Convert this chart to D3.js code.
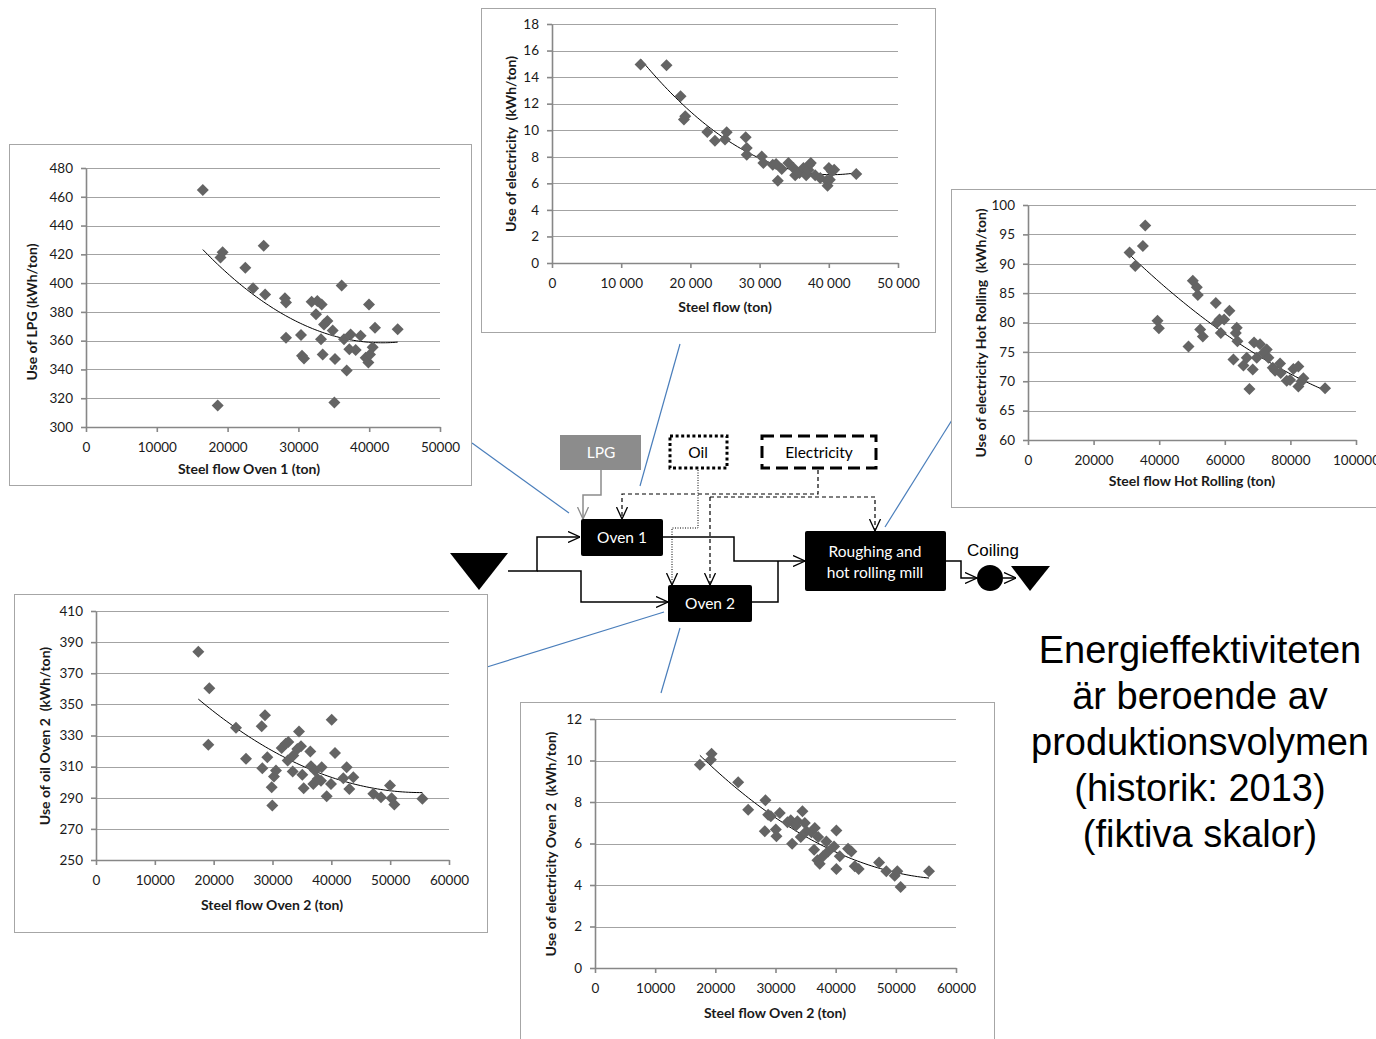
<!DOCTYPE html>
<html lang="sv">
<head>
<meta charset="UTF-8">
<title>Energieffektiviteten</title>
<script src="https://d3js.org/d3.v7.min.js"></script>
<style>
    body { margin: 0; background: #fff; }
    svg { display: block; }
    .chart text { font-family: Lato, 'Open Sans', sans-serif; fill: #1a1a1a; }
    .chart .tick text { font-size: 13.5px; }
    .chart .axis-title { font-size: 14px; font-weight: bold; white-space: pre; }
    .chart .grid line { stroke: #a3a3a3; stroke-width: 1; }
    .chart .axis path, .chart .axis line { stroke: #878787; stroke-width: 1.6; }
    .flow text { font-family: Lato, 'Open Sans', sans-serif; font-size: 15.5px; }
    .big { font-family: 'Liberation Sans', Arial, sans-serif; font-size: 38px; fill: #000; }
</style>
</head>
<body>
<svg width="1376" height="1039"></svg>
<script>
// ---- data: [steel flow (ton), use (kWh/ton)] ----
const lpgOven1 = [
    [16500, 464.7], [18600, 315], [19000, 417.8], [19300, 421.5], [22500, 410.6], [23600, 396.4],
    [25100, 426], [25300, 392], [28100, 389.4], [28250, 386.6], [28250, 362], [30370, 363.9],
    [30510, 349.5], [30790, 347.6], [31870, 387.1], [32490, 378.3], [32670, 387.6], [33290, 385.2],
    [33190, 360.9], [33430, 350.4], [33620, 371.3], [34090, 373.6], [34840, 367.1], [35170, 347.2],
    [35080, 317], [36110, 398.3], [36440, 360.9], [36820, 339.3], [37190, 354.1], [37380, 364.3],
    [38090, 353.5], [38790, 363.4], [39500, 348.1], [39970, 385.2], [39880, 344.8], [40110, 350.4],
    [40490, 355.5], [40820, 369], [44020, 368]
];
const elecOven1 = [
    [12800, 14.95], [16550, 14.9], [18580, 12.55], [19070, 10.8], [19260, 11.05], [22440, 9.87],
    [23550, 9.21], [25000, 9.3], [25240, 9.84], [27990, 9.47], [28140, 8.66], [28140, 8.16],
    [30310, 8.03], [30550, 7.53], [31900, 7.4], [32380, 7.45], [32630, 6.2], [33200, 7.08],
    [34170, 7.53], [34890, 7.15], [35140, 6.6], [35760, 6.78], [36340, 7.15], [36730, 6.6],
    [37060, 7.0], [37210, 7.4], [37400, 7.53], [38030, 6.6], [38760, 6.4], [39720, 6.22],
    [39820, 5.82], [40010, 7.15], [40150, 6.27], [40440, 6.9], [40780, 7.03], [43970, 6.7]
];
const elecHotRolling = [
    [35740, 96.5], [35030, 93.0], [30960, 91.9], [32690, 89.6], [39490, 80.3], [39900, 79.0],
    [48930, 75.9], [50250, 87.1], [51470, 86.0], [51780, 84.7], [52490, 78.8], [53300, 77.6],
    [57260, 83.3], [57560, 79.9], [58380, 80.5], [58780, 78.2], [59800, 80.5], [61420, 82.0],
    [62640, 73.7], [63350, 78.2], [63650, 79.1], [63860, 76.8], [65690, 72.7], [66700, 74.0],
    [67510, 68.7], [68530, 72.0], [68930, 76.6], [69750, 74.0], [70760, 76.3], [71780, 74.8],
    [72790, 75.4], [73300, 74.0], [74620, 72.3], [75330, 71.8], [76850, 73.0], [77060, 71.4],
    [78880, 70.1], [79900, 70.2], [80910, 72.1], [82440, 72.5], [82440, 69.1], [83450, 70.0],
    [83960, 70.5], [90560, 68.8]
];
const oilOven2 = [
    [17390, 383.8], [19260, 360.4], [19090, 324.1], [23800, 335.0], [25500, 315.0], [28160, 335.9],
    [28730, 343.0], [28270, 309.0], [29120, 316.1], [29860, 296.8], [29970, 285.0], [30250, 303.6],
    [30590, 307.5], [31560, 321.9], [32240, 324.7], [32690, 325.8], [32580, 313.9], [33430, 306.8],
    [33540, 317.1], [34220, 321.4], [34500, 332.6], [34840, 323.1], [35070, 304.7], [35300, 296.1],
    [36430, 319.7], [36540, 310.3], [36940, 298.9], [37220, 307.5], [37680, 302.1], [38360, 309.6],
    [38240, 301.0], [39210, 291.0], [39940, 298.9], [40060, 340.2], [40620, 318.7], [42040, 302.6],
    [42610, 309.6], [43060, 295.7], [43740, 303.2], [47140, 292.5], [48440, 290.4], [49970, 297.9],
    [50250, 289.7], [50710, 285.7], [55470, 289.4]
];
const elecOven2 = [
    [17430, 9.8], [19260, 10.04], [19370, 10.33], [23800, 8.95], [25460, 7.63], [28330, 8.08],
    [28220, 6.59], [28780, 7.39], [29220, 7.31], [30050, 6.67], [30160, 6.35], [30710, 7.47],
    [31990, 7.02], [32540, 7.12], [32760, 5.99], [33370, 6.86], [33650, 7.07], [34480, 7.55],
    [34200, 6.31], [34870, 6.99], [35140, 6.59], [35970, 6.54], [36530, 6.75], [36420, 5.70],
    [37080, 6.31], [36970, 5.19], [37350, 5.03], [37910, 5.38], [38460, 6.10], [38740, 5.62],
    [39730, 5.86], [40120, 6.63], [40120, 4.77], [40680, 5.38], [42060, 5.75], [42610, 5.62],
    [43170, 4.90], [43830, 4.77], [47210, 5.09], [48420, 4.66], [49810, 4.45], [50250, 4.66],
    [50800, 3.90], [55510, 4.66]
];

// ---- tick values ----
const ticks50k = [0, 10000, 20000, 30000, 40000, 50000];
const ticks60k = [0, 10000, 20000, 30000, 40000, 50000, 60000];
const ticks100k = [0, 20000, 40000, 60000, 80000, 100000];
const lpgTicks = [300, 320, 340, 360, 380, 400, 420, 440, 460, 480];
const elecTicks = [0, 2, 4, 6, 8, 10, 12, 14, 16, 18];
const hotTicks = [60, 65, 70, 75, 80, 85, 90, 95, 100];
const oilTicks = [250, 270, 290, 310, 330, 350, 370, 390, 410];
const elec2Ticks = [0, 2, 4, 6, 8, 10, 12];

const svg = d3.select("svg");
const plain = d3.format("d");
const spaced = d3.formatLocale({decimal: ",", thousands: "\u00a0", grouping: [3], currency: ["", ""]}).format(",d");

// blue leader lines from the charts to the process
const leaders = [[472, 443, 569, 513], [680, 344, 640, 486], [952, 420, 885, 527], [487, 667, 664, 612], [661, 693, 680, 628]];
svg.append("g").selectAll("line").data(leaders).join("line")
    .attr("x1", d => d[0]).attr("y1", d => d[1]).attr("x2", d => d[2]).attr("y2", d => d[3])
    .attr("stroke", "#4a7ebb").attr("stroke-width", 1.2);

// least squares quadratic, like the excel trendline
function quadFit(pts) {
    const mx = d3.mean(pts, d => d[0]);
    const s = [0, 0, 0, 0, 0], t = [0, 0, 0];
    pts.forEach(([x, y]) => {
        const u = (x - mx) / 10000;
        for (let k = 0; k < 5; k++) s[k] += u ** k;
        for (let k = 0; k < 3; k++) t[k] += y * u ** k;
    });
    const A = [[s[0], s[1], s[2]], [s[1], s[2], s[3]], [s[2], s[3], s[4]]];
    const det = m => m[0][0] * (m[1][1] * m[2][2] - m[1][2] * m[2][1])
        - m[0][1] * (m[1][0] * m[2][2] - m[1][2] * m[2][0])
        + m[0][2] * (m[1][0] * m[2][1] - m[1][1] * m[2][0]);
    const D = det(A);
    const c = [0, 1, 2].map(i => det(A.map((row, r) => row.map((v, j) => j === i ? t[r] : v))) / D);
    return x => { const u = (x - mx) / 10000; return c[0] + c[1] * u + c[2] * u * u; };
}

function drawChart(o) {
    const g = svg.append("g").attr("class", "chart");
    const [fx0, fy0, fx1, fy1] = o.frame;
    const [px0, py0, px1, py1] = o.plot;
    g.append("rect").attr("x", fx0 + 0.5).attr("y", fy0 + 0.5)
        .attr("width", fx1 - fx0).attr("height", fy1 - fy0)
        .attr("fill", "#fff").attr("stroke", "#a6a6a6");

    const x = d3.scaleLinear().domain(o.xDomain).range([px0, px1]);
    const y = d3.scaleLinear().domain(o.yDomain).range([py1, py0]);

    g.append("g").attr("class", "grid").selectAll("line")
        .data(o.yTicks.filter(v => v !== o.yDomain[0])).join("line")
        .attr("x1", px0).attr("x2", px1)
        .attr("y1", d => Math.round(y(d)) + 0.5).attr("y2", d => Math.round(y(d)) + 0.5);

    g.append("g").attr("class", "axis")
        .attr("transform", `translate(${px0},0)`)
        .call(d3.axisLeft(y).tickValues(o.yTicks).tickFormat(plain).tickSize(5).tickSizeOuter(0).tickPadding(8));
    g.append("g").attr("class", "axis")
        .attr("transform", `translate(0,${Math.round(py1)})`)
        .call(d3.axisBottom(x).tickValues(o.xTicks).tickFormat(o.fmt).tickSize(5).tickSizeOuter(0).tickPadding(10));

    const fit = quadFit(o.pts);
    const [lo, hi] = d3.extent(o.pts, d => d[0]);
    const xs = d3.range(81).map(i => lo + (hi - lo) * i / 80);
    g.append("path")
        .attr("d", d3.line().x(v => x(v)).y(v => y(fit(v)))(xs))
        .attr("fill", "none").attr("stroke", "#000").attr("stroke-width", 1);

    g.append("g").selectAll("path").data(o.pts).join("path")
        .attr("d", d3.symbol(d3.symbolSquare, 72)())
        .attr("transform", d => `translate(${x(d[0])},${y(d[1])}) rotate(45)`)
        .attr("fill", "#646464");

    g.append("text").attr("class", "axis-title")
        .attr("x", o.xTitleAt[0]).attr("y", o.xTitleAt[1])
        .attr("text-anchor", "middle").attr("dominant-baseline", "central")
        .text(o.xTitle);
    g.append("text").attr("class", "axis-title")
        .attr("transform", `translate(${o.yTitleAt[0]},${o.yTitleAt[1]}) rotate(-90)`)
        .attr("text-anchor", "middle").attr("dominant-baseline", "central")
        .text(o.yTitle);
}

drawChart({
    pts: lpgOven1, frame: [9, 144, 471, 485], plot: [86, 168, 440, 427],
    xDomain: [0, 50000], yDomain: [300, 480], xTicks: ticks50k, yTicks: lpgTicks, fmt: plain,
    xTitle: "Steel flow Oven 1 (ton)", yTitle: "Use of LPG (kWh/ton)",
    xTitleAt: [249, 468], yTitleAt: [31, 312]
});
drawChart({
    pts: elecOven1, frame: [481, 8, 935, 332], plot: [552, 24, 898, 263],
    xDomain: [0, 50000], yDomain: [0, 18], xTicks: ticks50k, yTicks: elecTicks, fmt: spaced,
    xTitle: "Steel flow (ton)", yTitle: "Use of electricity  (kWh/ton)",
    xTitleAt: [725, 306], yTitleAt: [510, 144]
});
drawChart({
    pts: elecHotRolling, frame: [951, 189, 1385, 507], plot: [1028, 205, 1356, 440],
    xDomain: [0, 100000], yDomain: [60, 100], xTicks: ticks100k, yTicks: hotTicks, fmt: plain,
    xTitle: "Steel flow Hot Rolling (ton)", yTitle: "Use of electricity Hot Rolling  (kWh/ton)",
    xTitleAt: [1192, 480], yTitleAt: [980, 333]
});
drawChart({
    pts: oilOven2, frame: [14, 594, 487, 932], plot: [96, 611, 449, 860],
    xDomain: [0, 60000], yDomain: [250, 410], xTicks: ticks60k, yTicks: oilTicks, fmt: plain,
    xTitle: "Steel flow Oven 2 (ton)", yTitle: "Use of oil Oven 2  (kWh/ton)",
    xTitleAt: [272, 904], yTitleAt: [44, 736]
});
drawChart({
    pts: elecOven2, frame: [520, 702, 994, 1050], plot: [595, 719, 956, 968],
    xDomain: [0, 60000], yDomain: [0, 12], xTicks: ticks60k, yTicks: elec2Ticks, fmt: plain,
    xTitle: "Steel flow Oven 2 (ton)", yTitle: "Use of electricity Oven 2  (kWh/ton)",
    xTitleAt: [775, 1012], yTitleAt: [550, 844]
});

// ---- process flow ----
const defs = svg.append("defs");
[["arrowBlack", "#000"], ["arrowGray", "#8c8c8c"]].forEach(([id, col]) => {
    defs.append("marker").attr("id", id)
        .attr("viewBox", "0 0 12 12").attr("refX", 12).attr("refY", 6)
        .attr("markerWidth", 12).attr("markerHeight", 12).attr("markerUnits", "userSpaceOnUse")
        .attr("orient", "auto")
        .append("path").attr("d", "M0,0.5L12,6L0,11.5")
        .attr("fill", "none").attr("stroke", col).attr("stroke-width", 1.3);
});

const flow = svg.append("g").attr("class", "flow");

const solid = ["M508,571H537V537H580", "M537,571H581V602H668", "M663,537H734V561H805",
    "M752,602H778V561", "M946,561H961V578H977", "M1003,578H1016"];
const arrowed = [true, true, true, false, true, true];
flow.selectAll(".main").data(solid).join("path")
    .attr("d", d => d).attr("fill", "none").attr("stroke", "#000").attr("stroke-width", 1.5)
    .attr("marker-end", (d, i) => arrowed[i] ? "url(#arrowBlack)" : null);

flow.append("path").attr("d", "M601,470V495H583V519")
    .attr("fill", "none").attr("stroke", "#8c8c8c").attr("stroke-width", 1.5)
    .attr("marker-end", "url(#arrowGray)");

flow.append("path").attr("d", "M698,470V528H672V585")
    .attr("fill", "none").attr("stroke", "#000").attr("stroke-width", 1)
    .attr("stroke-dasharray", "1,1.5").attr("marker-end", "url(#arrowBlack)");

["M818,470V494H622V519", "M710,497V585", "M710,497H875V531"].forEach(d => {
    flow.append("path").attr("d", d)
        .attr("fill", "none").attr("stroke", "#000").attr("stroke-width", 1.2)
        .attr("stroke-dasharray", "4,3").attr("marker-end", "url(#arrowBlack)");
});

// source boxes
flow.append("rect").attr("x", 560).attr("y", 435).attr("width", 81).attr("height", 35).attr("fill", "#8c8c8c");
flow.append("rect").attr("x", 670).attr("y", 436).attr("width", 57).attr("height", 32)
    .attr("fill", "#fff").attr("stroke", "#000").attr("stroke-width", 3).attr("stroke-dasharray", "3,2.6");
flow.append("rect").attr("x", 762).attr("y", 436).attr("width", 114).attr("height", 32)
    .attr("fill", "#fff").attr("stroke", "#000").attr("stroke-width", 3).attr("stroke-dasharray", "12,6");

// process boxes
const procBoxes = [[581, 519, 82, 37], [668, 585, 84, 37], [805, 531, 141, 60]];
flow.selectAll(".proc").data(procBoxes).join("rect")
    .attr("x", d => d[0]).attr("y", d => d[1]).attr("width", d => d[2]).attr("height", d => d[3])
    .attr("rx", 2).attr("fill", "#000");

flow.append("polygon").attr("points", "450,553 508,553 479,590").attr("fill", "#000");
flow.append("circle").attr("cx", 990).attr("cy", 578).attr("r", 13).attr("fill", "#000");
flow.append("polygon").attr("points", "1011,566 1050,566 1030,591").attr("fill", "#000");

const labels = [
    ["LPG", 601, 452, "#fff"], ["Oil", 698, 452, "#000"], ["Electricity", 819, 452, "#000"],
    ["Oven 1", 622, 537, "#fff"], ["Oven 2", 710, 603, "#fff"],
    ["Roughing and", 875, 551, "#fff"], ["hot rolling mill", 875, 572, "#fff"]
];
flow.selectAll(".lbl").data(labels).join("text")
    .attr("x", d => d[1]).attr("y", d => d[2]).attr("fill", d => d[3])
    .attr("text-anchor", "middle").attr("dominant-baseline", "central")
    .text(d => d[0]);

svg.append("text").attr("x", 993).attr("y", 550)
    .attr("text-anchor", "middle").attr("dominant-baseline", "central")
    .style("font-family", "'Liberation Sans', Arial, sans-serif").style("font-size", "17px")
    .text("Coiling");

// ---- statement ----
const statement = ["Energieffektiviteten", "är beroende av", "produktionsvolymen", "(historik: 2013)", "(fiktiva skalor)"];
svg.append("g").selectAll("text").data(statement).join("text")
    .attr("class", "big")
    .attr("x", 1200).attr("y", (d, i) => 663 + i * 46)
    .attr("text-anchor", "middle")
    .text(d => d);
</script>
</body>
</html>
